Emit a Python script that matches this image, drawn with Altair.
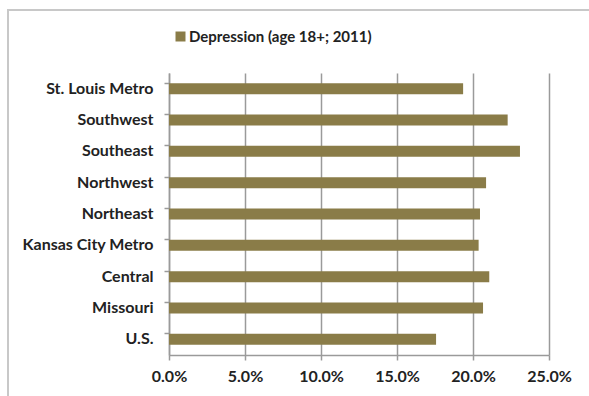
import altair as alt
import pandas as pd

regions = ["St. Louis Metro", "Southwest", "Southeast", "Northwest", "Northeast",
           "Kansas City Metro", "Central", "Missouri", "U.S."]
values = [0.1935, 0.2228, 0.2309, 0.2086, 0.2046, 0.2037, 0.2107, 0.2066, 0.1757]
series = "Depression (age 18+; 2011)"

df = pd.DataFrame({"region": regions, "value": values, "series": [series] * len(regions)})

FONT = "Lato"
GRID = "#9a9a9a"

bars = alt.Chart(df).mark_bar(color="#8a7c48").encode(
    x=alt.X("value:Q",
            scale=alt.Scale(domain=[0, 0.25], nice=False),
            axis=alt.Axis(format=".1%", values=[0, 0.05, 0.10, 0.15, 0.20, 0.25],
                          title=None, grid=True, gridColor=GRID, gridWidth=1.5,
                          gridOpacity=1, domain=True, domainColor=GRID, domainWidth=1.5,
                          ticks=True, tickColor=GRID, tickSize=5, tickWidth=1.5,
                          labelFlush=False, labelOverlap=False,
                          labelFont=FONT, labelFontSize=16, labelFontWeight="bold",
                          labelColor="#222222", labelPadding=8)),
    y=alt.Y("region:N", sort=regions,
            scale=alt.Scale(paddingInner=0.65, paddingOuter=0.325),
            axis=alt.Axis(title=None, grid=False, bandPosition=0,
                          domain=True, domainColor=GRID, domainWidth=1.5,
                          ticks=True, tickColor=GRID, tickSize=5, tickWidth=1.5,
                          labelFont=FONT, labelFontSize=16, labelFontWeight="bold",
                          labelColor="#222222", labelPadding=11)),
    fill=alt.Fill("series:N",
                  scale=alt.Scale(range=["#8a7c48"]),
                  legend=alt.Legend(title=None, orient="none", legendX=4, legendY=-44,
                                    symbolType="square", symbolSize=100,
                                    symbolStrokeWidth=0, labelLimit=400,
                                    labelFont=FONT, labelFontSize=15,
                                    labelFontWeight="bold", labelColor="#222222",
                                    labelOffset=1)),
)

frame_top = alt.Chart(df).mark_rule(color="#c8c8c8", strokeWidth=2).encode(
    x=alt.value(-162), x2=alt.value(430), y=alt.value(-63))
frame_left = alt.Chart(df).mark_rule(color="#c8c8c8", strokeWidth=2).encode(
    x=alt.value(-161), y=alt.value(-63), y2=alt.value(340))

chart = alt.layer(bars, frame_top, frame_left).properties(
    width=380, height=282,
    autosize=alt.AutoSizeParams(type="none"),
    padding={"left": 169, "top": 73, "right": 40, "bottom": 41},
    background="white",
).configure_view(stroke=None)

chart.save("out.html", embed_options={"renderer": "svg", "actions": False})
